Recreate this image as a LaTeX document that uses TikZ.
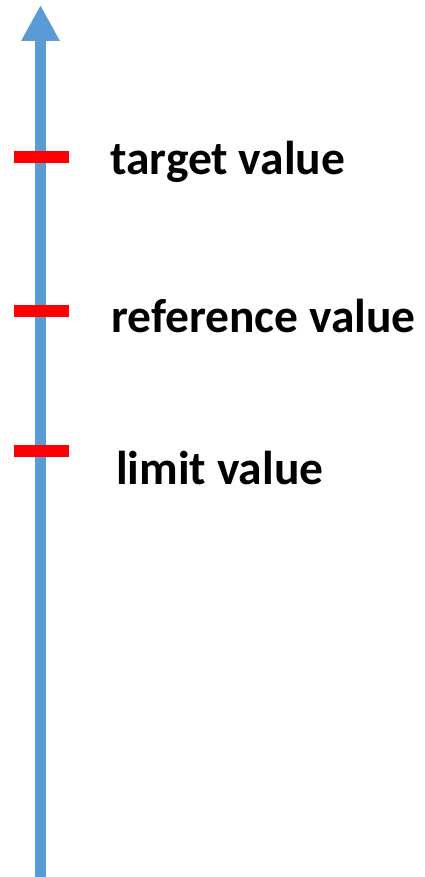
\documentclass[tikz,border=0pt]{standalone}
\usepackage{fontspec}
\setmainfont{Carlito}
\usetikzlibrary{arrows.meta}
\definecolor{axisblue}{HTML}{5B9BD5}
\definecolor{tickred}{HTML}{FF0000}
\begin{document}
\begin{tikzpicture}[x=1pt,y=1pt,
  axis/.style={draw=axisblue,line width=11pt,-{Triangle[length=36pt,width=36pt]}},
  tickmark/.style={draw=tickred,line width=12pt},
  lbl/.style={anchor=base west,inner sep=0pt,font=\bfseries\fontsize{47.5}{47.5}\selectfont}]
\useasboundingbox (0,0) rectangle (424,877);
\coordinate (bottom) at (40.5,0);
\coordinate (top) at (40.5,872);
\draw[axis] (bottom) -- (top);
\coordinate (t1) at (14,720);
\coordinate (t1e) at (69,720);
\coordinate (t2) at (14,566);
\coordinate (t2e) at (69,566);
\coordinate (t3) at (14,426);
\coordinate (t3e) at (69,426);
\draw[tickmark] (t1) -- (t1e);
\draw[tickmark] (t2) -- (t2e);
\draw[tickmark] (t3) -- (t3e);
\node[lbl] (target) at (110,702) {target value};
\node[lbl] (reference) at (111,544.5) {reference value};
\node[lbl] (limit) at (116,392) {limit value};
\end{tikzpicture}
\end{document}
